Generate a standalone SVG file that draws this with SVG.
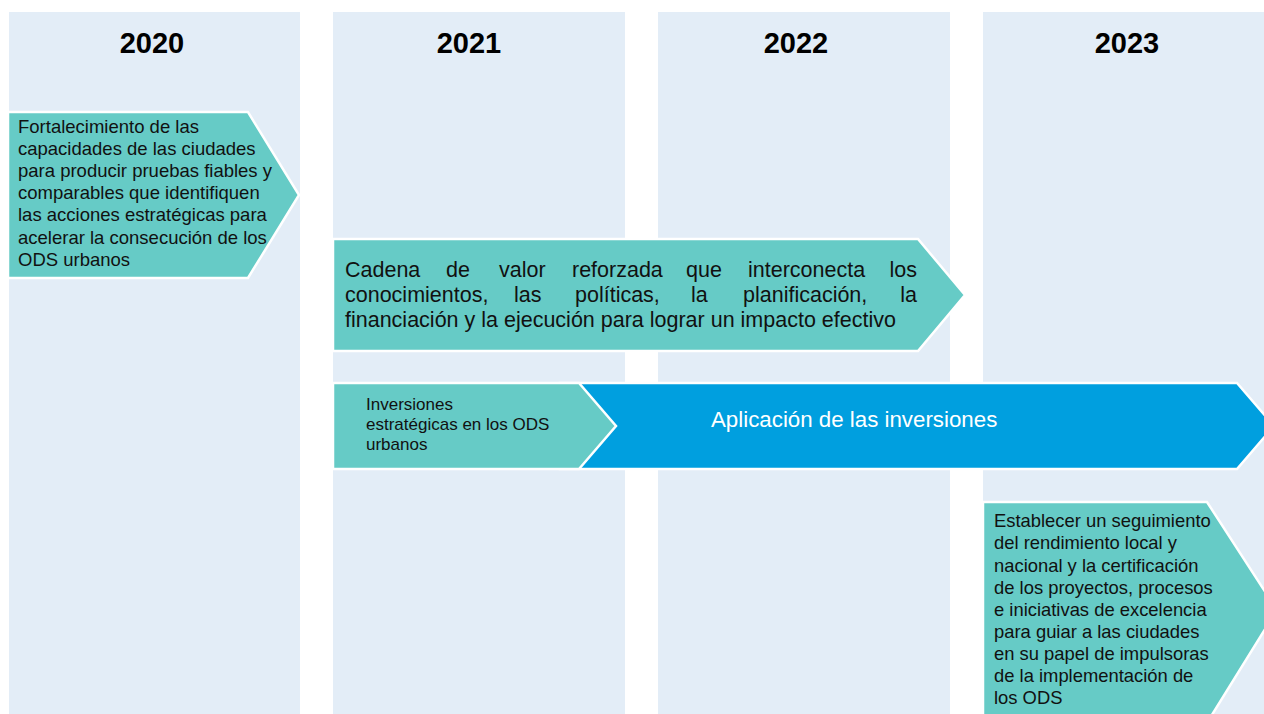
<svg xmlns="http://www.w3.org/2000/svg" width="1264" height="714" viewBox="0 0 1264 714">
<style>
.col{fill:#E3EDF7}
.yr{font-family:"Liberation Sans",Arial,sans-serif;font-weight:bold;font-size:29px;fill:#000;text-anchor:middle}
.teal{fill:#66CBC6;stroke:#fff;stroke-width:2.5}
.blue{fill:#009FDF;stroke:#fff;stroke-width:2.5}
.t{font-family:"Liberation Sans",Arial,sans-serif;fill:#111}
</style>
<rect width="1264" height="714" fill="#fff"/>
<g id="columns">
<rect class="col" x="9" y="12" width="291" height="702"/>
<rect class="col" x="333" y="12" width="292" height="702"/>
<rect class="col" x="658" y="12" width="292" height="702"/>
<rect class="col" x="983" y="12" width="281" height="702"/>
<text class="yr" x="152" y="53">2020</text>
<text class="yr" x="469" y="53">2021</text>
<text class="yr" x="796" y="53">2022</text>
<text class="yr" x="1127" y="53">2023</text>
</g>
<g id="n1">
<polygon class="teal" points="8,112 248,112 299,195 248,278 8,278"/>
<text class="t" font-size="18.5">
<tspan x="18" y="133">Fortalecimiento de las</tspan>
<tspan x="18" y="155">capacidades de las ciudades</tspan>
<tspan x="18" y="177">para producir pruebas fiables y</tspan>
<tspan x="18" y="199">comparables que identifiquen</tspan>
<tspan x="18" y="221">las acciones estratégicas para</tspan>
<tspan x="18" y="244">acelerar la consecución de los</tspan>
<tspan x="18" y="266">ODS urbanos</tspan>
</text>
</g>
<g id="n2">
<polygon class="teal" points="333,239 918,239 965,295 918,351 333,351"/>
<text class="t" font-size="21.5">
<tspan x="345" y="277">Cadena</tspan><tspan x="446" y="277">de</tspan><tspan x="499" y="277">valor</tspan><tspan x="572" y="277">reforzada</tspan><tspan x="686" y="277">que</tspan><tspan x="748" y="277">interconecta</tspan>
<tspan x="345" y="302">conocimientos,</tspan><tspan x="514" y="302">las</tspan><tspan x="575" y="302">políticas,</tspan><tspan x="691" y="302">la</tspan><tspan x="743" y="302">planificación,</tspan>
<tspan x="345" y="327">financiación y la ejecución para lograr un impacto efectivo</tspan>
</text>
<text class="t" font-size="21.5" text-anchor="end" x="917" y="277">los</text>
<text class="t" font-size="21.5" text-anchor="end" x="917" y="302">la</text>
</g>
<g id="n4">
<polygon class="blue" points="560,383 1237,383 1274,426 1237,469 560,469"/>
<text class="t" font-size="22.3" style="fill:#fff" x="711" y="427">Aplicación de las inversiones</text>
</g>
<g id="n3">
<polygon class="teal" points="333,383 579,383 616,426 579,469 333,469"/>
<text class="t" font-size="17">
<tspan x="366" y="410">Inversiones</tspan>
<tspan x="366" y="430">estratégicas en los ODS</tspan>
<tspan x="366" y="450">urbanos</tspan>
</text>
</g>
<g id="n5">
<polygon class="teal" points="983,502 1207,502 1277,610 1210,718 983,718"/>
<text class="t" font-size="18.4">
<tspan x="994" y="527">Establecer un seguimiento</tspan>
<tspan x="994" y="549">del rendimiento local y</tspan>
<tspan x="994" y="572">nacional y la certificación</tspan>
<tspan x="994" y="594">de los proyectos, procesos</tspan>
<tspan x="994" y="616">e iniciativas de excelencia</tspan>
<tspan x="994" y="638">para guiar a las ciudades</tspan>
<tspan x="994" y="660">en su papel de impulsoras</tspan>
<tspan x="994" y="682">de la implementación de</tspan>
<tspan x="994" y="704">los ODS</tspan>
</text>
</g>
<g id="connectors"/>
</svg>
